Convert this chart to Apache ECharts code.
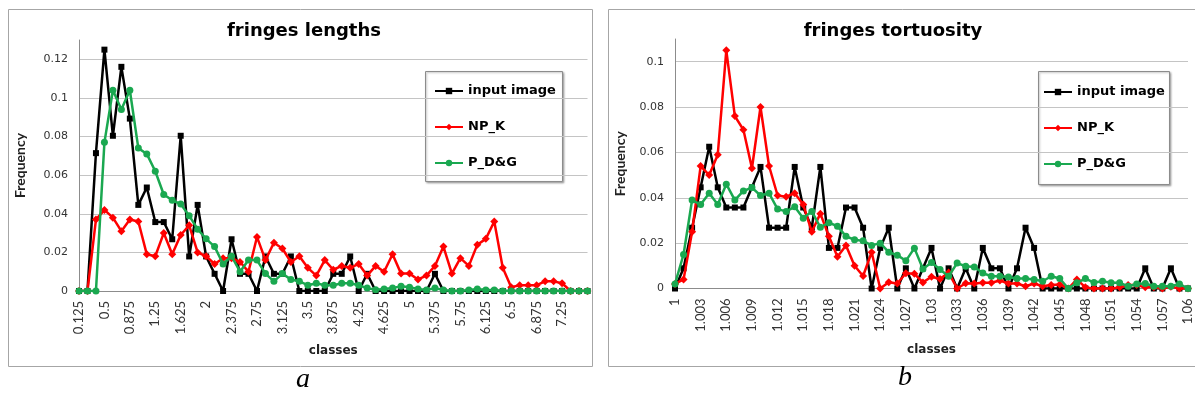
<!DOCTYPE html>
<html><head><meta charset="utf-8">
<script src="https://cdn.jsdelivr.net/npm/echarts@6/dist/echarts.min.js"></script>
<style>html,body{margin:0;padding:0;background:#fff}#c{width:1195px;height:399px}</style>
</head><body><div id="c"></div>
<script>
// ---------- data: fringes lengths ----------
const lengthClasses = ['0.125','0.25','0.375','0.5','0.625','0.75','0.875','1','1.125','1.25','1.375','1.5','1.625','1.75','1.875','2','2.125','2.25','2.375','2.5','2.625','2.75','2.875','3','3.125','3.25','3.375','3.5','3.625','3.75','3.875','4','4.125','4.25','4.375','4.5','4.625','4.75','4.875','5','5.125','5.25','5.375','5.5','5.625','5.75','5.875','6','6.125','6.25','6.375','6.5','6.625','6.75','6.875','7','7.125','7.25','7.375','7.5','7.625'];
const lengthInput = [0,0,0.0714,0.125,0.0804,0.1161,0.0893,0.0446,0.0536,0.0357,0.0357,0.0268,0.0804,0.0179,0.0446,0.0179,0.0089,0,0.0268,0.0089,0.0089,0,0.0179,0.0089,0.0089,0.0179,0,0,0,0,0.0089,0.0089,0.0179,0,0.0089,0,0,0,0,0,0,0,0.0089,0,0,0,0,0,0,0,0,0,0,0,0,0,0,0,0,0,0];
const lengthNPK = [0,0,0.037,0.042,0.038,0.031,0.037,0.036,0.019,0.018,0.030,0.019,0.029,0.034,0.020,0.018,0.014,0.017,0.017,0.015,0.010,0.028,0.016,0.025,0.022,0.015,0.018,0.012,0.008,0.016,0.011,0.013,0.012,0.014,0.008,0.013,0.010,0.019,0.009,0.009,0.006,0.008,0.013,0.023,0.009,0.017,0.013,0.024,0.027,0.036,0.012,0.002,0.003,0.003,0.003,0.005,0.005,0.004,0,0,0];
const lengthPDG = [0,0,0,0.077,0.104,0.094,0.104,0.074,0.071,0.062,0.050,0.047,0.045,0.039,0.032,0.027,0.023,0.014,0.018,0.010,0.016,0.016,0.009,0.005,0.009,0.006,0.005,0.003,0.004,0.003,0.003,0.004,0.004,0.003,0.0015,0.0006,0.001,0.0015,0.0025,0.002,0.001,0.0005,0.0015,0.0005,0,0,0.0005,0.001,0.0005,0.0005,0,0,0,0,0,0,0,0,0,0,0];

// ---------- data: fringes tortuosity ----------
const tortClasses = ['1','1.001','1.002','1.003','1.004','1.005','1.006','1.007','1.008','1.009','1.01','1.011','1.012','1.013','1.014','1.015','1.016','1.017','1.018','1.019','1.02','1.021','1.022','1.023','1.024','1.025','1.026','1.027','1.028','1.029','1.03','1.031','1.032','1.033','1.034','1.035','1.036','1.037','1.038','1.039','1.04','1.041','1.042','1.043','1.044','1.045','1.046','1.047','1.048','1.049','1.05','1.051','1.052','1.053','1.054','1.055','1.056','1.057','1.058','1.059','1.06'];
const tortInput = [0,0.0089,0.0268,0.0446,0.0625,0.0446,0.0357,0.0357,0.0357,0.0446,0.0536,0.0268,0.0268,0.0268,0.0536,0.0357,0.0268,0.0536,0.0179,0.0179,0.0357,0.0357,0.0268,0,0.0179,0.0268,0,0.0089,0,0.0089,0.0179,0,0.0089,0,0.0089,0,0.0179,0.0089,0.0089,0,0.0089,0.0268,0.0179,0,0,0,0,0,0,0,0,0,0,0,0,0.0089,0,0,0.0089,0,0];
const tortNPK = [0.002,0.004,0.025,0.054,0.050,0.059,0.105,0.076,0.070,0.053,0.080,0.054,0.041,0.0405,0.042,0.037,0.025,0.033,0.023,0.014,0.019,0.010,0.0055,0.016,0,0.0028,0.0022,0.0067,0.0065,0.0027,0.0052,0.0042,0.007,0,0.0023,0.0022,0.0025,0.0025,0.0035,0.0022,0.0022,0.001,0.0022,0.001,0.0015,0.0018,0,0.004,0.0005,0,0,0,0.0005,0.0015,0.0015,0.0005,0.0005,0,0.0008,0,0];
const tortPDG = [0.002,0.015,0.039,0.037,0.042,0.037,0.046,0.039,0.043,0.0445,0.041,0.042,0.035,0.034,0.036,0.031,0.034,0.027,0.029,0.0275,0.023,0.0215,0.021,0.019,0.020,0.016,0.0147,0.0122,0.0178,0.0086,0.0115,0.0084,0.0054,0.0112,0.0098,0.0095,0.0068,0.0054,0.0054,0.0051,0.0044,0.0044,0.004,0.0032,0.0054,0.0044,0,0.0025,0.0044,0.0026,0.0032,0.0025,0.0025,0.001,0.002,0.0022,0.001,0.001,0.001,0.002,0];

const seriesNames = ['input image', 'NP_K', 'P_D&G'];
const titles = ['fringes lengths', 'fringes tortuosity'];
const axisNames = { x: 'classes', y: 'Frequency' };
const captions = ['a', 'b'];

// ---------- styling ----------
const FONT = 'DejaVu Sans';
const COLORS = ['#000000', '#ff0000', '#1aa850'];
const SYMBOLS = ['rect', 'diamond', 'circle'];
const SIZES = [[6, 6], [8, 8], [7, 7]];

function mkSeries(idx, data, axisIndex) {
  return {
    name: seriesNames[idx], type: 'line', data: data,
    xAxisIndex: axisIndex, yAxisIndex: axisIndex,
    symbol: SYMBOLS[idx], symbolSize: SIZES[idx], showSymbol: true, showAllSymbol: true,
    lineStyle: { color: COLORS[idx], width: 2.5 },
    itemStyle: { color: COLORS[idx] },
    animation: false, z: 2 + idx
  };
}

function mkX(cats, gridIndex, labelFilter, nameGap) {
  return {
    type: 'category', gridIndex: gridIndex, data: cats, boundaryGap: false,
    name: axisNames.x, nameLocation: 'middle', nameGap: nameGap,
    nameTextStyle: { fontFamily: FONT, fontWeight: 'bold', fontSize: 12, color: '#222' },
    axisLine: { show: true, lineStyle: { color: '#8c8c8c', width: 1 } },
    axisTick: { show: false },
    axisLabel: { rotate: 90, interval: labelFilter, margin: 10,
      fontFamily: 'Lato', fontSize: 13, color: '#333' },
    splitLine: { show: false }
  };
}

function mkY(gridIndex, max, nameGap) {
  return {
    type: 'value', gridIndex: gridIndex, min: 0, max: max, interval: 0.02,
    name: axisNames.y, nameLocation: 'middle', nameRotate: 90, nameGap: nameGap,
    nameTextStyle: { fontFamily: 'Lato', fontWeight: 'bold', fontSize: 14, color: '#222' },
    axisLine: { show: true, lineStyle: { color: '#8c8c8c', width: 1 } },
    axisTick: { show: false },
    axisLabel: { showMaxLabel: false, margin: 11, fontFamily: FONT, fontSize: 11, color: '#333' },
    splitLine: { show: true, showMaxLine: false, lineStyle: { color: '#c4c4c4', width: 1.2 } }
  };
}

function mkLegend(left, top) {
  return {
    data: seriesNames, orient: 'vertical', left: left, top: top,
    itemWidth: 28, itemHeight: 8, itemGap: 20,
    padding: [11, 9, 11, 8],
    borderWidth: 0,
    textStyle: { fontFamily: FONT, fontWeight: 'bold', fontSize: 13, color: '#000', lineHeight: 16 },
    selectedMode: false
  };
}

function legendBox(x, y, w, h) {
  return { type: 'rect', shape: { x: x, y: y, width: w, height: h }, silent: true, z: 0,
    style: { fill: '#fff', stroke: '#8c8c8c', lineWidth: 1,
      shadowColor: 'rgba(0,0,0,0.3)', shadowBlur: 2, shadowOffsetX: 1, shadowOffsetY: 1 } };
}

const chart = echarts.init(document.getElementById('c'), null, { renderer: 'canvas' });
chart.setOption({
  backgroundColor: '#ffffff',
  animation: false,
  title: [
    { text: titles[0], left: 299, top: 17, textAlign: 'center',
      textStyle: { fontFamily: FONT, fontWeight: 'bold', fontSize: 18, color: '#000' } },
    { text: titles[1], left: 888, top: 17, textAlign: 'center',
      textStyle: { fontFamily: FONT, fontWeight: 'bold', fontSize: 18, color: '#000' } }
  ],
  grid: [
    { left: 79, right: 1195 - 587.5, top: 40, bottom: 399 - 291, containLabel: false },
    { left: 675, right: 1195 - 1188, top: 39, bottom: 399 - 288.5, containLabel: false }
  ],
  xAxis: [
    mkX(lengthClasses, 0, function (i) { return i % 3 === 0 && i <= 57; }, 54),
    mkX(tortClasses, 1, function (i) { return i % 3 === 0; }, 55)
  ],
  yAxis: [ mkY(0, 0.13, 52), mkY(1, 0.11, 48) ],
  legend: [ mkLegend(426, 72), mkLegend(1035, 73) ],
  series: [
    mkSeries(0, lengthInput, 0), mkSeries(1, lengthNPK, 0), mkSeries(2, lengthPDG, 0),
    mkSeries(0, tortInput, 1), mkSeries(1, tortNPK, 1), mkSeries(2, tortPDG, 1)
  ],
  graphic: [
    { type: 'rect', shape: { x: 8.5, y: 9.5, width: 584, height: 357 }, silent: true, z: -10,
      style: { fill: 'none', stroke: '#a6a6a6', lineWidth: 1 } },
    { type: 'rect', shape: { x: 608.5, y: 9.5, width: 600, height: 357 }, silent: true, z: -10,
      style: { fill: 'none', stroke: '#a6a6a6', lineWidth: 1 } },
    legendBox(425.5, 71.5, 137, 110),
    legendBox(1038.5, 71.5, 131, 113),
    { type: 'text', left: 296, top: 366, silent: true,
      style: { text: captions[0], font: 'italic 28px "Liberation Serif"', fill: '#000' } },
    { type: 'text', left: 898, top: 364, silent: true,
      style: { text: captions[1], font: 'italic 28px "Liberation Serif"', fill: '#000' } }
  ]
});
</script></body></html>
